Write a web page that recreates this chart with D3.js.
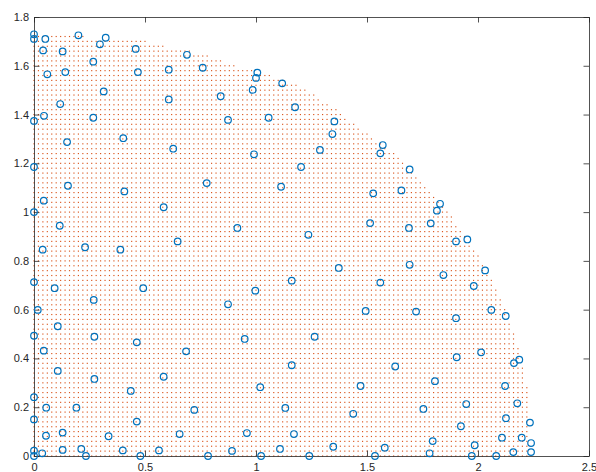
<!DOCTYPE html>
<html>
<head>
<meta charset="utf-8">
<script src="https://cdn.jsdelivr.net/npm/d3@7"></script>
<style>
  html, body { margin: 0; padding: 0; background: #fff; }
  svg { display: block; }
  .tick text { font-family: "Liberation Sans", Arial, Helvetica, sans-serif; font-size: 11px; fill: #262626; }
</style>
</head>
<body>
<svg id="chart" width="596" height="472"></svg>
<script>
// ---- data ----
const xTicks = [0, 0.5, 1, 1.5, 2, 2.5];
const yTicks = [0, 0.2, 0.4, 0.6, 0.8, 1, 1.2, 1.4, 1.6, 1.8];

// scattered sample points (blue circles)
const pointsX = [
  0,0,0.051,0.200,0.323,0.297,0.041,0.129,0.458,0.689,
  0.267,0.060,0.141,0.468,0.607,0.314,0.118,0.607,0.045,0,
  0.267,0.402,0.149,0.627,0.760,1.006,1.000,1.118,0.985,0.841,
  1.176,0.874,1.057,1.353,1.344,1.571,1.560,1.288,0.991,0,
  0.153,0.407,0.044,0,0.584,0.116,0.230,0.389,0.039,0.647,
  0,0.093,0.492,0.269,0.017,1.203,0.778,1.113,1.528,1.655,
  0.916,1.514,1.236,1.373,1.161,1.560,0.997,0.874,1.494,1.692,
  1.829,1.815,1.787,1.689,1.901,1.952,1.692,1.844,2.032,1.981,
  1.721,2.060,1.901,2.125,2.014,1.904,2.186,2.162,1.627,1.806,
  2.122,0.107,0,0.272,0.463,0.044,0.685,0.107,0.272,0.584,
  0.436,0.949,1.264,1.161,1.019,1.471,0,0.055,0.191,0.722,
  0,0.463,0.054,0.129,0.336,0.656,0,0.037,0,0.129,
  0.213,0.234,0.400,0.479,0.563,1.947,2.177,1.754,2.126,2.234,
  1.923,2.108,2.197,1.796,2.239,1.580,1.985,1.782,1.972,2.082,
  2.159,2.239,1.132,1.438,0.959,1.171,0.784,0.892,1.023,1.108,
  1.240,1.348,1.536
];
const pointsY = [
  1.729,1.710,1.710,1.725,1.715,1.688,1.663,1.659,1.669,1.645,
  1.617,1.565,1.574,1.574,1.584,1.495,1.443,1.462,1.395,1.374,
  1.387,1.303,1.287,1.260,1.592,1.572,1.550,1.528,1.501,1.475,
  1.430,1.378,1.387,1.372,1.320,1.275,1.241,1.255,1.237,1.185,
  1.108,1.085,1.047,1.000,1.020,0.944,0.856,0.846,0.846,0.880,
  0.713,0.688,0.688,0.640,0.599,1.185,1.119,1.104,1.077,1.089,
  0.935,0.955,0.907,0.771,0.719,0.711,0.678,0.622,0.595,1.175,
  1.034,1.006,0.954,0.935,0.880,0.888,0.784,0.742,0.761,0.697,
  0.592,0.599,0.565,0.574,0.425,0.405,0.395,0.381,0.367,0.307,
  0.287,0.532,0.493,0.489,0.466,0.432,0.429,0.349,0.316,0.325,
  0.267,0.480,0.489,0.372,0.282,0.287,0.241,0.198,0.198,0.189,
  0.150,0.141,0.083,0.096,0.081,0.090,0.022,0.011,0.000,0.025,
  0.029,0.000,0.023,0.000,0.023,0.213,0.216,0.193,0.155,0.137,
  0.122,0.075,0.075,0.061,0.053,0.034,0.044,0.011,0.000,0.000,
  0.016,0.016,0.197,0.173,0.094,0.090,0.000,0.021,0.000,0.029,
  0.000,0.038,0.000
];

// outline of the dotted region and grid step of the dot mesh
const regionOutline = [
  [-0.005,-0.005],[2.23,-0.005],[2.225,0.28],[2.205,0.34],[2.17,0.49],[2.11,0.63],
  [2.09,0.68],[1.985,0.845],[1.885,0.98],[1.76,1.12],[1.645,1.23],[1.537,1.296],
  [1.463,1.35],[1.373,1.412],[1.283,1.469],[1.216,1.508],[1.13,1.54],[1.07,1.56],
  [0.99,1.58],[0.92,1.60],[0.85,1.62],[0.79,1.64],[0.71,1.66],[0.60,1.68],
  [0.48,1.705],[0.15,1.725],[-0.005,1.73]
];
const gridStep = 0.02;
const gridMaxX = 2.26;
const gridMaxY = 1.76;

// ---- drawing ----
const W = 596, H = 472;
const margin = {left: 34, right: 7, top: 17, bottom: 16};
const svg = d3.select("#chart");

const x = d3.scaleLinear().domain([0, 2.5]).range([margin.left, W - margin.right]);
const y = d3.scaleLinear().domain([0, 1.8]).range([H - margin.bottom, margin.top]);

// dotted mesh
const nx = Math.round(gridMaxX / gridStep), ny = Math.round(gridMaxY / gridStep);
const mesh = [];
for (let i = 0; i <= nx; i++) {
  for (let j = 0; j <= ny; j++) {
    const p = [i * gridStep, j * gridStep];
    if (d3.polygonContains(regionOutline, p)) mesh.push(p);
  }
}
const ds = 1.15;
svg.append("g").selectAll("rect").data(mesh).join("rect")
  .attr("x", d => x(d[0]) - ds / 2)
  .attr("y", d => y(d[1]) - ds / 2)
  .attr("width", ds).attr("height", ds)
  .attr("fill", "#D95319");

// axes (box)
const tl = 5.5;
const axColor = "#262626";
function styleAxis(g) {
  g.select(".domain").attr("stroke", axColor).attr("stroke-width", 0.8);
  g.selectAll(".tick line").attr("stroke", axColor).attr("stroke-width", 0.8);
}
svg.append("g").attr("transform", `translate(0,${y(0)})`)
  .call(d3.axisBottom(x).tickValues(xTicks).tickFormat(d3.format("~g")).tickSize(-tl).tickSizeOuter(0).tickPadding(7))
  .call(styleAxis);
svg.append("g").attr("transform", `translate(0,${y(1.8)})`)
  .call(d3.axisTop(x).tickValues(xTicks).tickFormat("").tickSize(-tl).tickSizeOuter(0))
  .call(styleAxis);
svg.append("g").attr("transform", `translate(${x(0)},0)`)
  .call(d3.axisLeft(y).tickValues(yTicks).tickFormat(d3.format("~g")).tickSize(-tl).tickSizeOuter(0).tickPadding(5))
  .call(styleAxis);
svg.append("g").attr("transform", `translate(${x(2.5)},0)`)
  .call(d3.axisRight(y).tickValues(yTicks).tickFormat("").tickSize(-tl).tickSizeOuter(0))
  .call(styleAxis);
svg.selectAll(".tick text").attr("fill", axColor);

// scattered circles
const pts = pointsX.map((v, i) => [v, pointsY[i]]);
svg.append("g").selectAll("circle").data(pts).join("circle")
  .attr("cx", d => x(d[0]))
  .attr("cy", d => y(d[1]))
  .attr("r", 3.3)
  .attr("fill", "none")
  .attr("stroke", "#0072BD")
  .attr("stroke-width", 1.2);
</script>
</body>
</html>
